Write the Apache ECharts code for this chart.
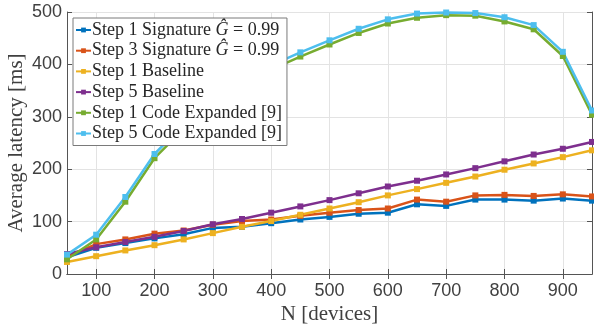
<!DOCTYPE html>
<html><head><meta charset="utf-8">
<script src="https://cdn.jsdelivr.net/npm/echarts@6/dist/echarts.min.js"></script>
<style>html,body{margin:0;padding:0;background:#fff}#c{width:594px;height:326px}</style>
</head><body><div id="c"></div>
<script>
const nDevices = [50,100,150,200,250,300,350,400,450,500,550,600,650,700,750,800,850,900,950];
const xTicks = [100,200,300,400,500,600,700,800,900];
const seriesNames = [
  'Step 1 Signature {i|Ĝ} = 0.99',
  'Step 3 Signature {i|Ĝ} = 0.99',
  'Step 1 Baseline',
  'Step 5 Baseline',
  'Step 1 Code Expanded [9]',
  'Step 5 Code Expanded [9]'
];
const step1Signature = [32,50,59,68,76,88,90,97,104,109,115,117,133,130,142,142,140,144,140];
const step3Signature = [33,57,66,77,83,94,101,104,111,117,122,125,142,138,150,151,149,152,148];
const step1Baseline  = [23,34,45,55,66,78,90,101,113,125,137,150,162,174,186,199,211,223,236];
const step5Baseline  = [38,51,61,71,82,95,105,117,129,141,154,167,178,190,202,215,228,239,252];
const step1CodeExp   = [28,66,138,221,277,324,360,390,415,438,460,478,489,494,493,482,467,416,304];
const step5CodeExp   = [37,75,147,229,285,332,368,398,423,446,468,486,497,499,498,490,475,424,312];
const colors = ['#0072BD','#D95319','#EDB120','#7E2F8E','#77AC30','#4DBEEE'];
const allData = [step1Signature, step3Signature, step1Baseline, step5Baseline, step1CodeExp, step5CodeExp];

const serif = 'Liberation Serif';
const sans = 'Liberation Sans';
const boxColor = '#555555';
const txtColor = '#404040';

const series = allData.map((d, i) => ({
  name: seriesNames[i],
  type: 'line',
  data: nDevices.map((x, j) => [x, d[j]]),
  symbol: 'rect',
  symbolSize: 6,
  showSymbol: true,
  clip: false,
  lineStyle: {width: 2.5, color: colors[i]},
  itemStyle: {color: colors[i]},
  emphasis: {disabled: true},
  xAxisIndex: 0, yAxisIndex: 0
}));

const chart = echarts.init(document.getElementById('c'), null, {renderer: 'canvas'});
chart.setOption({
  animation: false,
  backgroundColor: '#fff',
  grid: {left: 67, right: 2, top: 12, bottom: 52, containLabel: false, outerBoundsMode: 'none'},
  legend: {
    orient: 'vertical',
    left: 73, top: 18,
    backgroundColor: '#fff',
    borderColor: '#7a7a7a',
    borderWidth: 1,
    borderRadius: 0,
    padding: [3, 5, 3, 2],
    itemGap: 2.7,
    itemWidth: 15,
    itemHeight: 6,
    data: seriesNames,
    textStyle: {
      fontFamily: serif, fontSize: 18, color: '#262626', padding: [0,0,0,-4],
      rich: {i: {fontFamily: serif, fontStyle: 'italic', fontSize: 18, color: '#262626'}}
    }
  },
  xAxis: [{
    type: 'value', min: 50, max: 950,
    name: 'N [devices]', nameLocation: 'middle', nameGap: 30, nameMoveOverlap: false,
    nameTextStyle: {fontFamily: serif, fontSize: 21, color: txtColor},
    axisLine: {show: true, onZero: false, lineStyle: {color: boxColor, width: 1}},
    axisTick: {show: true, inside: true, length: 5, customValues: xTicks, lineStyle: {color: boxColor}},
    axisLabel: {customValues: xTicks, fontFamily: sans, fontSize: 18, color: txtColor, margin: 8},
    splitLine: {show: true, lineStyle: {color: '#e3e3e3', width: 1}}
  }, {
    type: 'value', min: 50, max: 950, position: 'top',
    axisLine: {show: true, lineStyle: {color: boxColor, width: 1}},
    axisTick: {show: true, inside: true, length: 5, customValues: xTicks, lineStyle: {color: boxColor}},
    axisLabel: {show: false}, splitLine: {show: false}
  }],
  yAxis: [{
    type: 'value', min: 0, max: 500, interval: 100,
    name: 'Average latency [ms]', nameLocation: 'middle', nameGap: 40, nameMoveOverlap: false,
    nameTextStyle: {fontFamily: serif, fontSize: 21, color: txtColor},
    axisLine: {show: true, lineStyle: {color: boxColor, width: 1}},
    axisTick: {show: true, inside: true, length: 5, lineStyle: {color: boxColor}},
    axisLabel: {fontFamily: sans, fontSize: 18, color: txtColor, margin: 5},
    splitLine: {show: true, lineStyle: {color: '#e3e3e3', width: 1}}
  }, {
    type: 'value', min: 0, max: 500, interval: 100, position: 'right',
    axisLine: {show: true, lineStyle: {color: boxColor, width: 1}},
    axisTick: {show: true, inside: true, length: 5, lineStyle: {color: boxColor}},
    axisLabel: {show: false}, splitLine: {show: false}
  }],
  series: series
});
</script></body></html>
